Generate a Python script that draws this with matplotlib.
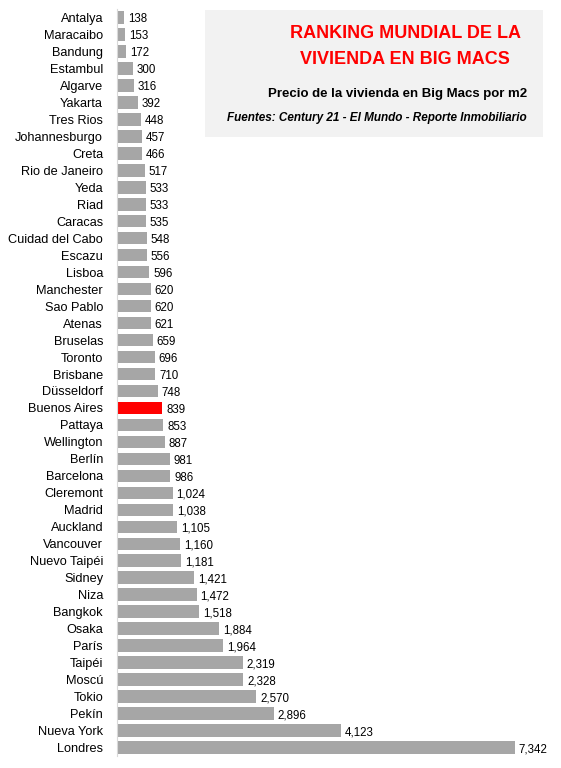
import matplotlib
matplotlib.use("Agg")
import matplotlib.pyplot as plt
from matplotlib.patches import Rectangle

plt.rcParams['font.family'] = ['Liberation Sans', 'DejaVu Sans']

cities = ["Antalya","Maracaibo","Bandung","Estambul","Algarve","Yakarta","Tres Rios","Johannesburgo","Creta",
          "Rio de Janeiro","Yeda","Riad","Caracas","Cuidad del Cabo","Escazu","Lisboa","Manchester","Sao Pablo",
          "Atenas","Bruselas","Toronto","Brisbane","Düsseldorf","Buenos Aires","Pattaya","Wellington","Berlín",
          "Barcelona","Cleremont","Madrid","Auckland","Vancouver","Nuevo Taipéi","Sidney","Niza","Bangkok",
          "Osaka","París","Taipéi","Moscú","Tokio","Pekín","Nueva York","Londres"]
values = [138,153,172,300,316,392,448,457,466,517,533,533,535,548,556,596,620,620,621,659,696,710,748,839,
          853,887,981,986,1024,1038,1105,1160,1181,1421,1472,1518,1884,1964,2319,2328,2570,2896,4123,7342]
highlight = "Buenos Aires"

W, H = 561, 768
fig = plt.figure(figsize=(W/100, H/100), dpi=100)
ax = fig.add_axes([117/W, 1-756/H, (560-117)/W, (756-9)/H])
y = list(range(len(cities)))
colors = ["#ff0000" if c == highlight else "#a6a6a6" for c in cities]
ax.barh(y, values, height=0.74, color=colors)
ax.set_ylim(len(cities)-0.5, -0.5)
ax.set_xlim(0, 7342*443/398)
ax.set_yticks(y)
ax.set_yticklabels(cities, fontsize=9.2)
ax.tick_params(axis='y', length=0, pad=10)
ax.set_xticks([])
for s in ax.spines.values():
    s.set_visible(False)
ax.spines['left'].set_visible(True)
ax.spines['left'].set_color("#d9d9d9")
for yi, v in zip(y, values):
    ax.text(v + 70, yi + 0.1, f"{v:,}", va='center', ha='left', fontsize=8.3)

fig.patches.append(Rectangle((205/W, 1-137/H), (543-205)/W, (137-10)/H,
                             transform=fig.transFigure, facecolor="#f2f2f2", edgecolor="none", zorder=0))
fig.text(405/W, 1-33/H, "RANKING MUNDIAL DE LA", ha='center', va='center', color="#ff0000",
         fontsize=13, fontweight='bold')
fig.text(405/W, 1-59/H, "VIVIENDA EN BIG MACS", ha='center', va='center', color="#ff0000",
         fontsize=13, fontweight='bold')
fig.text(527/W, 1-94/H, "Precio de la vivienda en Big Macs por m2", ha='right', va='center',
         fontsize=9.5, fontweight='bold')
fig.text(527/W, 1-118/H, "Fuentes: Century 21 - El Mundo - Reporte Inmobiliario", ha='right', va='center',
         fontsize=8.5, fontweight='bold', style='italic')

fig.savefig("out.png", dpi=100)
